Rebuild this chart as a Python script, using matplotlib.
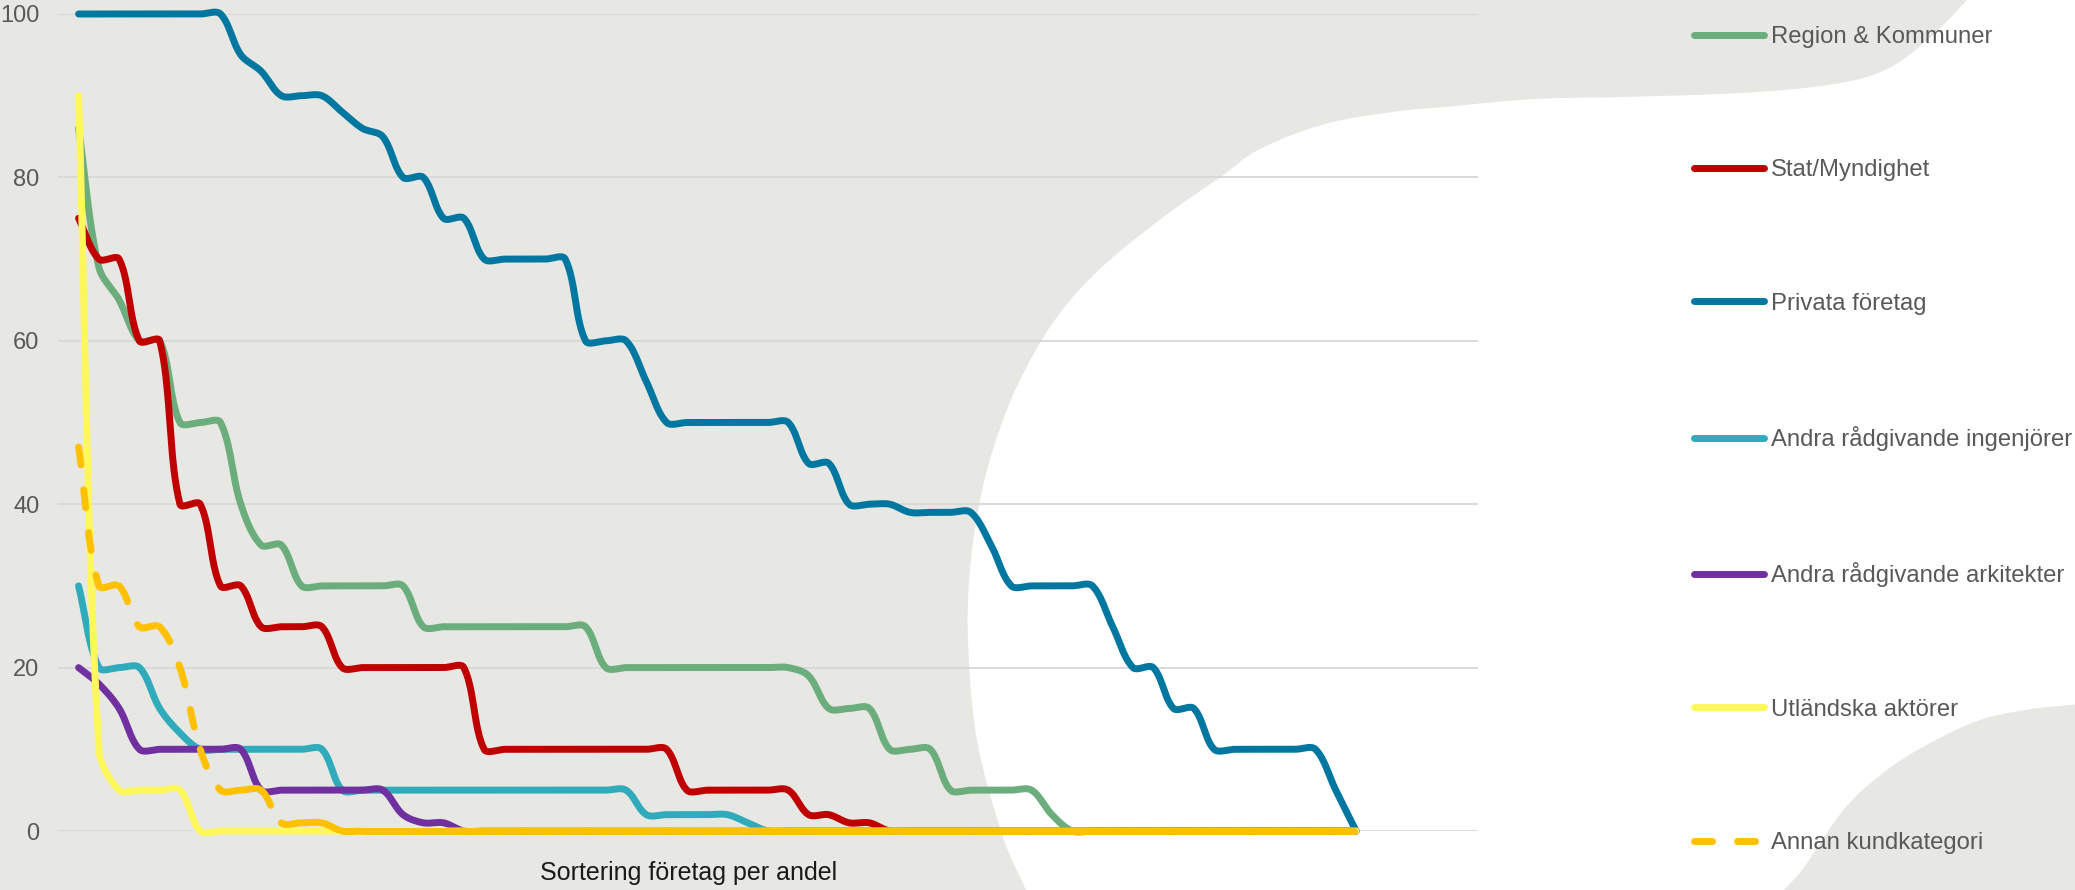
import numpy as np
import matplotlib
matplotlib.use("Agg")
import matplotlib.pyplot as plt
from matplotlib.patches import Polygon

plt.rcParams['font.family'] = ['Liberation Sans', 'DejaVu Sans']

# serier, sorterade per företag (andel i procent)
labels = ['Region & Kommuner', 'Stat/Myndighet', 'Privata företag',
          'Andra rådgivande ingenjörer', 'Andra rådgivande arkitekter',
          'Utländska aktörer', 'Annan kundkategori']
colors = ['#6BAD7C', '#C00000', '#0077A1', '#2FABBC', '#7030A0', '#FFF85C', '#FFC000']

region = [86, 69, 65, 60, 60, 50, 50, 50, 40, 35, 35, 30, 30, 30, 30, 30, 30,
          25, 25, 25, 25, 25, 25, 25, 25, 25, 20, 20, 20, 20, 20, 20, 20, 20, 20, 20,
          19, 15, 15, 15, 10, 10, 10, 5, 5, 5, 5, 5, 2,
          0, 0, 0, 0, 0, 0, 0, 0, 0, 0, 0, 0, 0, 0, 0]
stat = [75, 70, 70, 60, 60, 40, 40, 30, 30, 25, 25, 25, 25,
        20, 20, 20, 20, 20, 20, 20, 10, 10, 10, 10, 10, 10, 10, 10, 10, 10,
        5, 5, 5, 5, 5, 5, 2, 2, 1, 1,
        0, 0, 0, 0, 0, 0, 0, 0, 0, 0, 0, 0, 0, 0, 0, 0, 0, 0, 0, 0, 0, 0, 0, 0]
privata = [100, 100, 100, 100, 100, 100, 100, 100, 95, 93, 90, 90, 90, 88, 86, 85,
           80, 80, 75, 75, 70, 70, 70, 70, 70, 60, 60, 60, 55,
           50, 50, 50, 50, 50, 50, 50, 45, 45, 40, 40, 40, 39, 39, 39, 39, 35,
           30, 30, 30, 30, 30, 25, 20, 20, 15, 15, 10, 10, 10, 10, 10, 10, 5, 0]
ingenjorer = [30, 20, 20, 20, 15, 12, 10, 10, 10, 10, 10, 10, 10,
              5, 5, 5, 5, 5, 5, 5, 5, 5, 5, 5, 5, 5, 5, 5, 2, 2, 2, 2, 2, 1,
              0, 0, 0, 0, 0, 0, 0, 0, 0, 0, 0, 0, 0, 0, 0, 0, 0, 0, 0, 0, 0,
              0, 0, 0, 0, 0, 0, 0, 0, 0]
arkitekter = [20, 18, 15, 10, 10, 10, 10, 10, 10, 5, 5, 5, 5, 5, 5, 5, 2, 1, 1,
              0, 0, 0, 0, 0, 0, 0, 0, 0, 0, 0, 0, 0, 0, 0, 0, 0, 0, 0, 0, 0, 0,
              0, 0, 0, 0, 0, 0, 0, 0, 0, 0, 0, 0, 0, 0, 0, 0, 0, 0, 0, 0, 0, 0, 0]
utlandska = [90, 10, 5, 5, 5, 5,
             0, 0, 0, 0, 0, 0, 0, 0, 0, 0, 0, 0, 0, 0, 0, 0, 0, 0, 0, 0, 0, 0, 0,
             0, 0, 0, 0, 0, 0, 0, 0, 0, 0, 0, 0, 0, 0, 0, 0, 0, 0, 0, 0, 0, 0, 0,
             0, 0, 0, 0, 0, 0, 0, 0, 0, 0, 0, 0]
annan = [47, 30, 30, 25, 25, 20, 10, 5, 5, 5, 1, 1, 1,
         0, 0, 0, 0, 0, 0, 0, 0, 0, 0, 0, 0, 0, 0, 0, 0, 0, 0, 0, 0, 0, 0, 0,
         0, 0, 0, 0, 0, 0, 0, 0, 0, 0, 0, 0, 0, 0, 0, 0, 0, 0, 0, 0, 0, 0, 0,
         0, 0, 0, 0, 0]
series = [region, stat, privata, ingenjorer, arkitekter, utlandska, annan]
yticks = [0, 20, 40, 60, 80, 100]

W, H = 2075, 890
GREY = '#E7E7E3'


def bezier_segments(p, n=24):
    # utjämnad linje (som i Excel): kubiska bezier-segment, styrpunkter viktade med segmentlängd
    P = np.vstack([p[0], p, p[-1]])
    t = np.linspace(0, 1, n)[:, None]
    segs = []
    for k in range(len(p) - 1):
        p0, p1, p2, p3 = P[k], P[k + 1], P[k + 2], P[k + 3]
        d01 = np.hypot(*(p1 - p0))
        d12 = np.hypot(*(p2 - p1))
        d23 = np.hypot(*(p3 - p2))
        c1 = p1 + (p2 - p0) * (d12 / max(d01 + d12, 1e-9)) / 3
        c2 = p2 - (p3 - p1) * (d12 / max(d12 + d23, 1e-9)) / 3
        seg = (1 - t) ** 3 * p1 + 3 * (1 - t) ** 2 * t * c1 + 3 * (1 - t) * t ** 2 * c2 + t ** 3 * p2
        segs.append(seg)
    return segs


def smooth_path(p, n=24):
    segs = bezier_segments(np.asarray(p, float), n)
    return np.vstack([segs[0]] + [s[1:] for s in segs[1:]])


fig = plt.figure(figsize=(W / 100, H / 100), dpi=100)
fig.patch.set_facecolor('white')

# bakgrundsformer
bg = fig.add_axes([0, 0, 1, 1], zorder=0)
bg.set_xlim(0, W)
bg.set_ylim(H, 0)
bg.axis('off')
bg.add_patch(Polygon([(0, 0), (W, 0), (W, H), (0, H)], closed=True, color=GREY, lw=0))
edge = [(1967, 0), (1935, 33), (1891, 67), (1846, 82), (1757, 92), (1623, 97), (1534, 99),
        (1444, 107), (1400, 111), (1325, 124), (1258, 150), (1222, 176), (1169, 213),
        (1102, 267), (1057, 317), (1020, 380), (996, 440), (980, 500), (970, 570),
        (968, 640), (977, 740), (1004, 840), (1026, 890)]
white = smooth_path(edge, 12)
white = np.vstack([white, [(W + 5, H + 5), (W + 5, -5), (1967, -5)]])
bg.add_patch(Polygon(white, closed=True, color='white', lw=0))
blob = [(1784, 890), (1802, 870), (1846, 807), (1891, 767), (1936, 740), (1980, 720),
        (2025, 710), (2070, 705), (2100, 703)]
blob = smooth_path(blob, 12)
blob = np.vstack([blob, [(W + 5, H + 5)]])
bg.add_patch(Polygon(blob, closed=True, color=GREY, lw=0))

# diagram
ax = fig.add_axes([58.3 / W, (H - 831) / H, 1419.4 / W, 817 / H], zorder=1)
ax.set_facecolor('none')
ax.set_xlim(0, 70)
ax.set_ylim(0, 100)
ax.set_yticks(yticks)
ax.set_xticks([])
ax.yaxis.grid(True, color='#D9D9D9', lw=1.4)
ax.set_axisbelow(True)
for s in ax.spines.values():
    s.set_visible(False)
ax.tick_params(axis='y', length=0, pad=13.5, labelsize=17, labelcolor='#595959')

lw = 5.0
for vals, col, lab in zip(series, colors, labels):
    x = np.arange(1, len(vals) + 1)
    pix = ax.transData.transform(np.column_stack([x, vals]))
    inv = ax.transData.inverted()
    if lab == 'Annan kundkategori':
        # streckad linje, mönstret börjar om i varje segment
        for k, seg in enumerate(bezier_segments(pix)):
            d = inv.transform(seg)
            ax.plot(d[:, 0], d[:, 1], color=col, lw=lw, linestyle=(0, (2.6, 3.6)),
                    dash_capstyle='round', clip_on=False,
                    label=lab if k == 0 else '_nolegend_', zorder=3)
    else:
        segs = bezier_segments(pix)
        d = inv.transform(np.vstack([segs[0]] + [s[1:] for s in segs[1:]]))
        ax.plot(d[:, 0], d[:, 1], color=col, lw=lw, solid_capstyle='round',
                clip_on=False, label=lab, zorder=3)

ax.set_xlabel('Sortering företag per andel', fontsize=18, color='#1A1A1A')
ax.xaxis.set_label_coords((689 - 58.3) / 1419.4, (831 - 861) / 817)

ax.legend(loc='upper left', bbox_to_anchor=(1694 / W, 1 - 26 / H),
          bbox_transform=fig.transFigure, frameon=False, fontsize=17.2,
          labelcolor='#595959', labelspacing=4.66, handlelength=2.93,
          handletextpad=0.29, borderpad=0, borderaxespad=0)

fig.savefig('out.png', dpi=100, facecolor=fig.get_facecolor())
